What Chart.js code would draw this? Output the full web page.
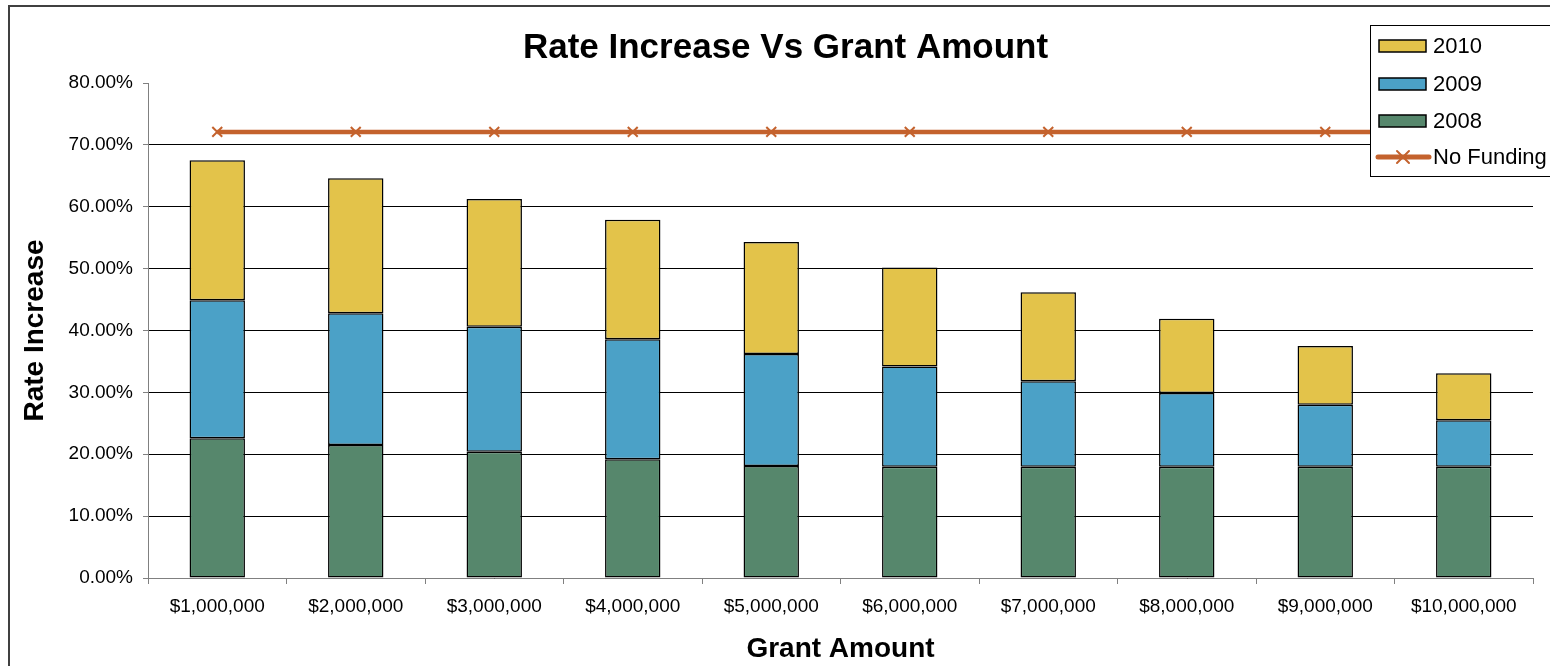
<!DOCTYPE html>
<html>
<head>
<meta charset="utf-8">
<script src="https://cdn.jsdelivr.net/npm/chart.js@4.4.0/dist/chart.umd.min.js"></script>
<style>
  html, body { margin: 0; padding: 0; background: #fff; overflow: hidden; }
  #wrap { position: relative; width: 1550px; height: 666px; }
</style>
</head>
<body>
<div id="wrap"><canvas id="chart" width="1550" height="666"></canvas></div>
<script>
const grantAmounts = ['$1,000,000', '$2,000,000', '$3,000,000', '$4,000,000', '$5,000,000',
  '$6,000,000', '$7,000,000', '$8,000,000', '$9,000,000', '$10,000,000'];
// stacked pieces, in percent
const rate2008 = [22.6, 21.5, 20.4, 19.2, 18.1, 18.0, 18.0, 18.0, 18.0, 18.0];
const rate2009 = [22.3, 21.3, 20.2, 19.4, 18.1, 16.2, 13.8, 11.9, 10.0, 7.5];
const rate2010 = [22.6, 21.8, 20.65, 19.3, 18.1, 16.0, 14.4, 12.0, 9.5, 7.6];
const noFunding = [72.1, 72.1, 72.1, 72.1, 72.1, 72.1, 72.1, 72.1, 72.1, 72.1];

const colors = {
  y2010: '#E3C34A',
  y2009: '#4BA1C7',
  y2008: '#56876C',
  noFunding: '#C4622D',
};

Chart.defaults.font.family = '"Liberation Sans", Arial, Helvetica, sans-serif';
Chart.defaults.color = '#000';

// outer frame of the chart, cut off at right and bottom like the original
const framePlugin = {
  id: 'frame',
  afterLayout(chart) {
    // the original title sits a bit right of the canvas centre
    if (chart.titleBlock) chart.titleBlock.left += 38;
  },
  beforeDraw(chart) {
    const ctx = chart.ctx;
    ctx.save();
    ctx.strokeStyle = '#404040';
    ctx.lineWidth = 2;
    ctx.strokeRect(9, 6, 1700, 800);
    ctx.restore();
  },
};

// legend box drawn over the plot, like Excel does it
const boxLegend = {
  id: 'boxLegend',
  afterDraw(chart) {
    const ctx = chart.ctx;
    const x = 1370.5, y = 25.5;
    ctx.save();
    ctx.fillStyle = '#fff';
    ctx.strokeStyle = '#000';
    ctx.lineWidth = 1;
    ctx.fillRect(x, y, 220, 151);
    ctx.strokeRect(x, y, 220, 151);
    const rows = [
      {label: '2010', color: colors.y2010, cy: 46},
      {label: '2009', color: colors.y2009, cy: 84},
      {label: '2008', color: colors.y2008, cy: 121},
    ];
    ctx.font = '22px "Liberation Sans", Arial, sans-serif';
    ctx.textBaseline = 'middle';
    for (const row of rows) {
      ctx.fillStyle = row.color;
      ctx.fillRect(1379, row.cy - 6, 47, 12);
      ctx.lineWidth = 1.5;
      ctx.strokeRect(1379, row.cy - 6, 47, 12);
      ctx.fillStyle = '#000';
      ctx.fillText(row.label, 1433, row.cy + 1);
    }
    // No Funding entry: thick line with x marker
    const ly = 157;
    ctx.strokeStyle = colors.noFunding;
    ctx.lineWidth = 5;
    ctx.lineCap = 'round';
    ctx.beginPath();
    ctx.moveTo(1378, ly);
    ctx.lineTo(1429, ly);
    ctx.stroke();
    ctx.lineWidth = 2;
    ctx.beginPath();
    ctx.moveTo(1397, ly - 6); ctx.lineTo(1409, ly + 6);
    ctx.moveTo(1409, ly - 6); ctx.lineTo(1397, ly + 6);
    ctx.stroke();
    ctx.fillStyle = '#000';
    ctx.fillText('No Funding', 1433, ly + 1);
    ctx.restore();
  },
};

const barStyle = {
  borderColor: '#000',
  borderWidth: 1.5,
  borderSkipped: false,
  barPercentage: 0.4,
  categoryPercentage: 1,
  stack: 'rates',
};

new Chart(document.getElementById('chart'), {
  type: 'bar',
  data: {
    labels: grantAmounts,
    datasets: [
      {
        type: 'line',
        label: 'No Funding',
        data: noFunding,
        stack: 'line',
        borderColor: colors.noFunding,
        borderWidth: 4.5,
        pointStyle: 'crossRot',
        pointRadius: 7,
        pointBorderWidth: 2,
        pointBorderColor: colors.noFunding,
        order: 0,
      },
      {label: '2008', data: rate2008, backgroundColor: colors.y2008, ...barStyle, order: 1},
      {label: '2009', data: rate2009, backgroundColor: colors.y2009, ...barStyle, order: 1},
      {label: '2010', data: rate2010, backgroundColor: colors.y2010, ...barStyle, order: 1},
    ],
  },
  options: {
    responsive: false,
    animation: false,
    devicePixelRatio: 1,
    layout: {
      padding: {left: 0, right: 17, top: 0, bottom: 0},
    },
    plugins: {
      legend: {display: false},
      tooltip: {enabled: false},
      title: {
        display: true,
        text: 'Rate Increase Vs Grant Amount',
        font: {size: 35, weight: 'bold'},
        color: '#000',
        padding: {top: 27, bottom: 14},
      },
    },
    scales: {
      x: {
        stacked: true,
        offset: true,
        afterFit: (scale) => { scale.height = 88; },
        grid: {
          drawOnChartArea: false,
          drawTicks: true,
          tickLength: 6,
          color: '#808080',
        },
        border: {color: '#808080', width: 1},
        ticks: {font: {size: 19}, color: '#000', padding: 11, maxRotation: 0},
        title: {
          display: true,
          text: 'Grant Amount',
          font: {size: 28, weight: 'bold'},
          color: '#000',
          padding: {top: 6, bottom: 0},
        },
      },
      y: {
        stacked: true,
        min: 0,
        max: 80,
        afterFit: (scale) => { scale.width = 148; },
        grid: {
          color: (c) => (c.tick && c.tick.value === 80 ? 'rgba(0,0,0,0)' : '#000'),
          tickColor: '#808080',
          tickLength: 5,
          lineWidth: 1,
        },
        border: {color: '#808080', width: 1},
        ticks: {
          stepSize: 10,
          font: {size: 19},
          color: '#000',
          padding: 10,
          callback: (v) => v.toFixed(2) + '%',
        },
        title: {
          display: true,
          text: 'Rate Increase',
          font: {size: 28, weight: 'bold'},
          color: '#000',
          padding: {top: 18, bottom: 0},
        },
      },
    },
  },
  plugins: [framePlugin, boxLegend],
});
</script>
</body>
</html>
